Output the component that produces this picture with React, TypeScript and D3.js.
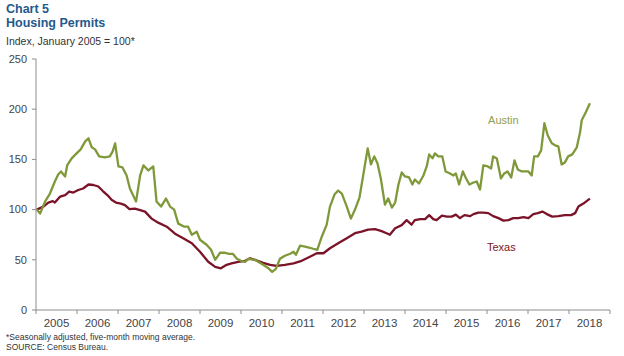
import React from "react";
import * as d3 from "d3";

const yearLabels = ["2005","2006","2007","2008","2009","2010","2011","2012","2013","2014","2015","2016","2017","2018"];
const yTicks = [0, 50, 100, 150, 200, 250];

// Austin: decimal year and index value
const austinDates = [2005.02,2005.10,2005.22,2005.34,2005.46,2005.54,2005.61,2005.71,2005.76,2005.87,2005.99,2006.09,2006.20,2006.28,2006.36,2006.44,2006.54,2006.68,2006.80,2006.87,2006.93,2007.01,2007.11,2007.21,2007.29,2007.44,2007.54,2007.62,2007.74,2007.86,2007.94,2008.05,2008.17,2008.27,2008.37,2008.47,2008.62,2008.71,2008.80,2008.92,2009.00,2009.16,2009.27,2009.37,2009.49,2009.61,2009.71,2009.80,2009.90,2010.00,2010.10,2010.18,2010.34,2010.54,2010.67,2010.76,2010.85,2010.95,2011.07,2011.20,2011.28,2011.34,2011.44,2011.56,2011.68,2011.76,2011.86,2011.97,2012.09,2012.17,2012.28,2012.37,2012.46,2012.58,2012.68,2012.78,2012.89,2012.98,2013.09,2013.17,2013.25,2013.33,2013.41,2013.51,2013.59,2013.68,2013.76,2013.84,2013.92,2014.00,2014.10,2014.18,2014.24,2014.34,2014.45,2014.53,2014.59,2014.67,2014.73,2014.81,2014.91,2014.99,2015.10,2015.18,2015.24,2015.32,2015.41,2015.49,2015.57,2015.67,2015.75,2015.83,2015.91,2016.02,2016.10,2016.15,2016.24,2016.34,2016.42,2016.50,2016.59,2016.67,2016.75,2016.85,2016.94,2017.01,2017.09,2017.15,2017.24,2017.32,2017.40,2017.48,2017.58,2017.66,2017.74,2017.82,2017.90,2017.98,2018.08,2018.19,2018.27,2018.31,2018.41,2018.51];
const austinValues = [100,96,108,116,128,135,138,133,144,151,156,160,168,171,162,160,153,152,153,158,166,143,142,134,121,108,134,144,139,143,108,103,111,103,100,86,83,83,75,78,70,65,60,50,57,57,56,56,51,49,48,51,50,45,41.5,38,41,51,54,56,58,55,64,63,62,61,60,73,85,103,115,119,116,103,91,100,112,134,161,145,153,146,131,105,111,102,107,125,137,133,132,125,130,126,134,143,155,151,156,153,153,138,136,134,136,125,138,131,125,127,128,120,144,143,141,153,151,131,136,138,132,149,140,138,138,138,134,153,153,159,186,174,166,164,163,145,147,153,155,162,177,189,197,206];

// Texas: decimal year and index value
const texasDates = [2005.02,2005.18,2005.30,2005.41,2005.46,2005.59,2005.71,2005.81,2005.91,2006.03,2006.15,2006.28,2006.40,2006.52,2006.63,2006.74,2006.85,2006.95,2007.07,2007.17,2007.28,2007.41,2007.54,2007.66,2007.82,2007.98,2008.19,2008.39,2008.59,2008.80,2009.00,2009.20,2009.37,2009.51,2009.65,2009.77,2009.93,2010.10,2010.22,2010.34,2010.54,2010.71,2010.87,2011.07,2011.28,2011.48,2011.68,2011.85,2012.01,2012.17,2012.37,2012.58,2012.78,2012.94,2013.10,2013.27,2013.43,2013.55,2013.63,2013.76,2013.92,2014.04,2014.16,2014.24,2014.37,2014.49,2014.59,2014.69,2014.77,2014.90,2015.02,2015.14,2015.24,2015.34,2015.45,2015.59,2015.67,2015.79,2015.91,2016.03,2016.15,2016.28,2016.40,2016.52,2016.64,2016.76,2016.89,2017.01,2017.13,2017.24,2017.35,2017.46,2017.59,2017.74,2017.90,2018.05,2018.15,2018.23,2018.35,2018.51];
const texasValues = [100,103,107,108.5,107,113,114.5,118,117,119.5,121,125,124.5,123,118.5,114.5,109.5,107,106,104.5,100.5,101,99.5,98,91,87,83,76,71.5,66.5,58,48,43,41.5,45,46.5,48,49,51.5,50,47,45,44,45,46.5,49,53,56.5,56.5,61.5,66.5,71.5,76.5,78,80,80.5,78.5,76.5,75,81.5,84.5,89.5,85,89.5,90.5,90.5,94.5,90.5,89.5,94,93,93,95,91.5,94.5,93.5,95.5,97,97,96.5,93.5,91.5,89,89.5,91.5,91.5,92.5,91.5,95.5,96.5,98,95.5,93,93.5,94.5,94.5,96.5,103,106,111];

const W = 624, H = 356;
const font = "'Liberation Sans', Arial, sans-serif";

export default function App() {
  const x = d3.scaleLinear().domain([2005, 2019]).range([36, 610]);
  const y = d3.scaleLinear().domain([0, 250]).range([310, 59]);
  const line = d3.line<[number, number]>().x(d => x(d[0])).y(d => y(d[1])).curve(d3.curveLinear);
  const austin = austinDates.map((d, i) => [d, austinValues[i]] as [number, number]);
  const texas = texasDates.map((d, i) => [d, texasValues[i]] as [number, number]);
  const axisColor = "#8c8c8c";
  return (
    <svg width={W} height={H} style={{ position: "absolute", left: 0, top: 0, background: "#fff" }} fontFamily={font}>
      <rect x={0} y={0} width={W} height={H} fill="#fff" />
      <text x={6} y={12.5} fontSize={12.5} fontWeight="bold" fill="#1f5a8c">Chart 5</text>
      <text x={6} y={27} fontSize={12.5} fontWeight="bold" fill="#1f5a8c">Housing Permits</text>
      <text x={6} y={45} fontSize={10.5} fill="#333">Index,  January 2005 = 100*</text>
      {/* y axis */}
      <line x1={36} x2={36} y1={y(250)} y2={y(0)} stroke={axisColor} strokeWidth={1} />
      {yTicks.map(t => (
        <g key={t}>
          <line x1={32} x2={36} y1={y(t)} y2={y(t)} stroke={axisColor} />
          <text x={27} y={y(t)} dy="0.35em" textAnchor="end" fontSize={11} fill="#444">{t}</text>
        </g>
      ))}
      {/* x axis */}
      <line x1={x(2005)} x2={x(2019)} y1={y(0)} y2={y(0)} stroke={axisColor} />
      {d3.range(2005, 2020).map(yr => (
        <line key={yr} x1={x(yr)} x2={x(yr)} y1={y(0)} y2={y(0) + 4} stroke={axisColor} />
      ))}
      {yearLabels.map(l => (
        <text key={l} x={x(+l + 0.5)} y={y(0) + 17} textAnchor="middle" fontSize={11.5} fill="#444">{l}</text>
      ))}
      <path d={line(texas) || ""} fill="none" stroke="#7b1428" strokeWidth={2.3} strokeLinejoin="round" />
      <path d={line(austin) || ""} fill="none" stroke="#7f993a" strokeWidth={2.3} strokeLinejoin="round" />
      <text x={x(2016.4)} y={y(189)} dy="0.35em" textAnchor="middle" fontSize={11} fill="#8f9d55">Austin</text>
      <text x={x(2016.35)} y={y(63)} dy="0.35em" textAnchor="middle" fontSize={11} fill="#7b1428">Texas</text>
      <text x={6} y={340} fontSize={8.5} fill="#333">*Seasonally adjusted, five-month  moving  average.</text>
      <text x={6} y={350} fontSize={8.5} fill="#333">SOURCE: Census Bureau.</text>
    </svg>
  );
}
